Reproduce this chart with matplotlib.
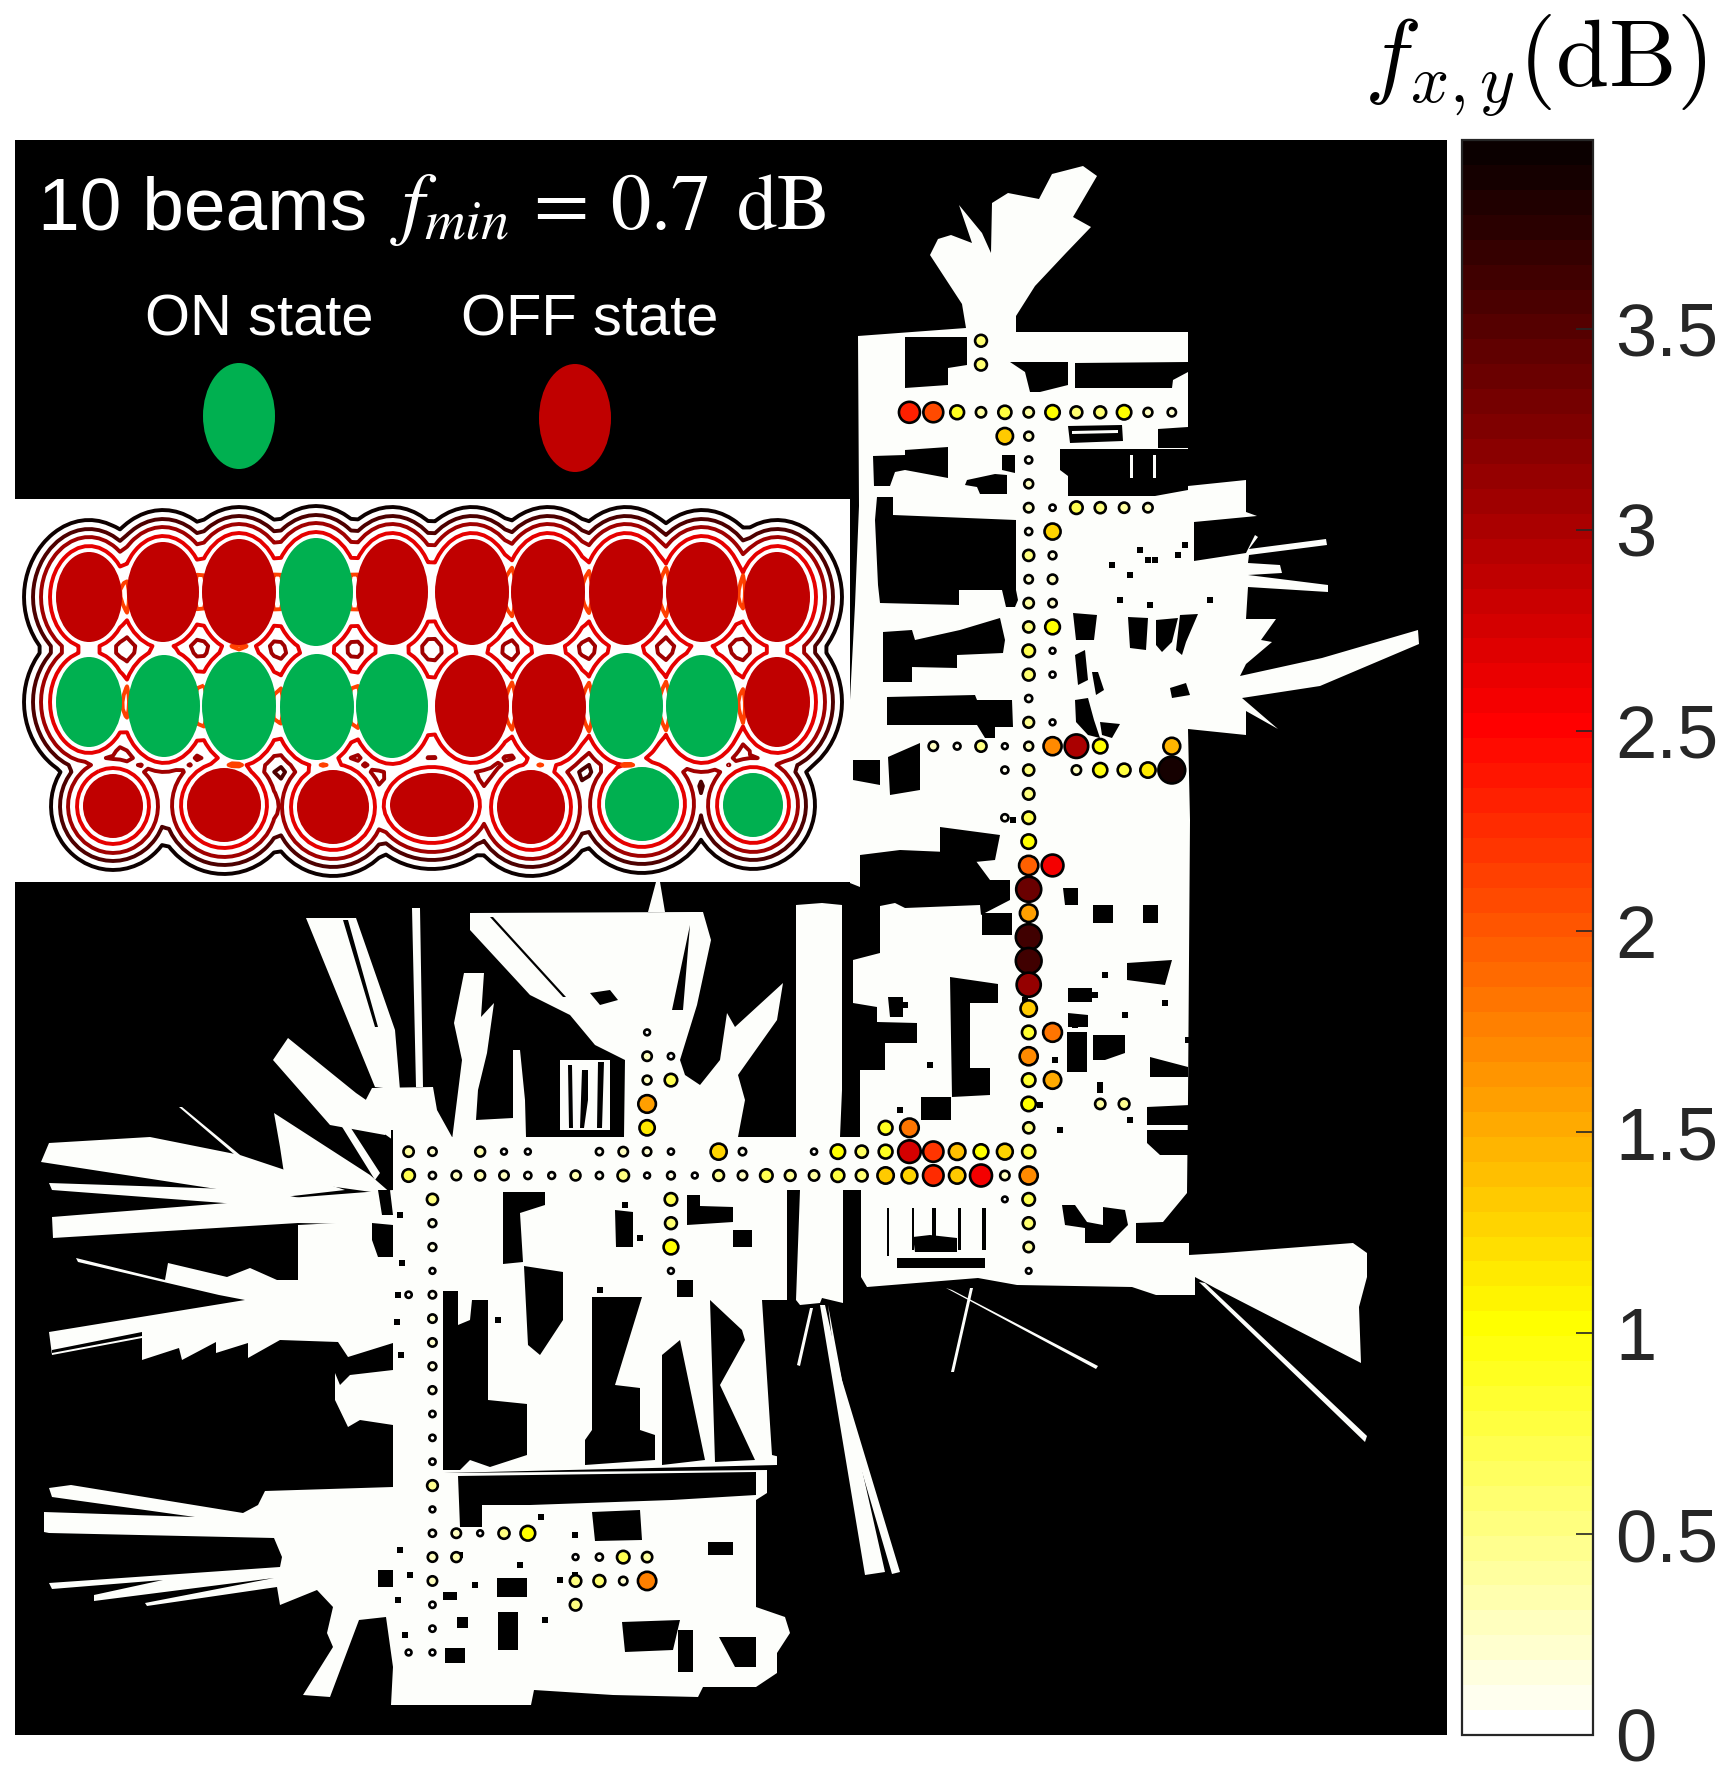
import numpy as np
import matplotlib
matplotlib.use("Agg")
import matplotlib.pyplot as plt
from matplotlib.patches import Ellipse, Rectangle

plt.rcParams["font.family"] = ["Liberation Sans", "DejaVu Sans"]
plt.rcParams["mathtext.fontset"] = "cm"

# measurement points, on a regular grid (col, row) with the values in dB
grid_rows = [-3, -2, 0, 1, 2, 3, 4, 5, 6, 7, 8, 9, 10, 11, 12, 13, 14, 15, 16, 17, 18, 19, 20, 21, 22, 23, 24, 25,
             26, 27, 28, 29, 30, 31, 32, 33, 34, 35, 36, 37, 38, 39, 40, 41, 42, 43, 44, 45, 46, 47, 48, 49, 50, 51, 52]
grid_cols = [
    [-2], [-2],
    [-5, -4, -3, -2, -1, 0, 1, 2, 3, 4, 5, 6],
    [-1, 0], [0], [0],
    [0, 1, 2, 3, 4, 5],
    [0, 1], [0, 1], [0, 1], [0, 1], [0, 1], [0, 1], [0, 1], [0], [0, 1],
    [-4, -3, -2, -1, 0, 1, 2, 3, 6],
    [-1, 0, 2, 3, 4, 5, 6],
    [0], [-1, 0], [0], [0, 1], [0], [0], [0], [0], [0], [0],
    [-16, 0, 1],
    [-16, -15, 0],
    [-16, -15, 0, 1],
    [-16, 0, 3, 4],
    [-16, -6, -5, 0],
    [-26, -25, -23, -22, -21, -18, -17, -16, -15, -13, -12, -9, -8, -7, -6, -5, -4, -3, -2, -1, 0],
    [-26, -25, -24, -23, -22, -21, -20, -19, -18, -17, -16, -15, -14, -13, -12, -11, -10, -9, -8, -7, -6, -5, -4, -3,
     -2, -1, 0],
    [-25, -15, -1, 0],
    [-25, -15, 0],
    [-25, -15, 0],
    [-25, -15, 0],
    [-26, -25],
    [-25], [-25], [-25], [-25], [-25], [-25], [-25], [-25], [-25],
    [-25, -24, -23, -22, -21],
    [-25, -24, -19, -18, -17, -16],
    [-25, -19, -18, -17, -16],
    [-25, -19],
    [-25],
    [-26, -25],
]
grid_vals = [
    [0.6], [0.6],
    [2.35, 2.1, 0.9, 0.4, 0.8, 0.4, 1.0, 0.6, 0.6, 1.0, 0.25, 0.2],
    [1.35, 0.25], [0.1], [0.25],
    [0.3, 0.05, 0.7, 0.5, 0.4, 0.3],
    [0.1, 1.3], [0.5, 0.15], [0.2, 0.3], [0.4, 0.2], [0.5, 1.05], [0.7, 0.03], [0.6, 0.04], [0.1], [0.45, 0.03],
    [0.3, 0.08, 0.5, 0.03, 0.25, 1.7, 3.0, 1.0, 1.45],
    [0.1, 0.5, 0.3, 0.95, 0.75, 1.15, 3.9],
    [0.55], [0.1, 0.7], [1.0], [1.95, 2.55], [3.4], [1.6], [3.6], [3.6], [3.15], [1.35],
    [0.03, 0.85, 1.85],
    [0.3, 0.05, 1.7],
    [0.25, 0.7, 0.85, 1.55],
    [1.6, 1.0, 0.4, 0.45],
    [1.15, 0.9, 1.8, 0.5],
    [0.4, 0.2, 0.35, 0.03, 0.03, 0.1, 0.3, 0.2, 0.04, 1.3, 0.12, 0.04, 1.0, 0.65, 0.9, 2.75, 2.2, 1.4, 1.05, 1.25, 0.8],
    [0.7, 0.1, 0.3, 0.35, 0.3, 0.1, 0.08, 0.35, 0.1, 0.55, 0.03, 0.15, 0.03, 0.45, 0.3, 0.7, 0.45, 0.4, 0.75, 0.6,
     1.35, 1.25, 2.25, 1.35, 2.6, 0.3, 1.7],
    [0.5, 0.7, 0.02, 0.7],
    [0.15, 0.6, 0.6],
    [0.15, 1.05, 0.4],
    [0.03, 0.03, 0.02],
    [0.05, 0.12],
    [0.2], [0.2], [0.15], [0.15], [0.05], [0.05], [0.05], [0.45], [0.03],
    [0.1, 0.3, 0.03, 0.5, 1.05],
    [0.3, 0.35, 0.03, 0.1, 0.7, 0.4],
    [0.3, 0.55, 0.6, 0.2, 1.75],
    [0.05, 0.55],
    [0.05],
    [0.03, 0.03],
]

# beam footprints of the inset: centre x, centre y, half width, half height, ON/OFF
beam_x = [89, 163, 239, 316, 392, 472, 548, 626, 702, 777,
          89, 164, 239, 317, 392, 472, 549, 626, 702, 777,
          113, 224, 333, 432, 531, 642, 753]
beam_y = [597, 592, 592, 592, 592, 592, 592, 592, 592, 597,
          702, 706, 706, 707, 706, 706, 707, 706, 706, 702,
          806, 805, 807, 805, 807, 804, 805]
beam_a = [33, 36, 37, 37, 36, 37, 37, 37, 36, 33,
          33, 36, 37, 37, 36, 37, 37, 37, 36, 33,
          30, 37, 36, 42, 34, 37, 30]
beam_b = [45, 50, 53, 54, 53, 53, 53, 53, 50, 45,
          45, 51, 54, 53, 52, 51, 53, 53, 51, 45,
          32, 37, 37, 32, 37, 37, 32]
beam_on = [0, 0, 0, 1, 0, 0, 0, 0, 0, 0,
           1, 1, 1, 1, 1, 0, 0, 1, 1, 0,
           0, 0, 0, 0, 0, 1, 1]
contour_levels = [6, 15, 23, 32]
contour_colors = ["#e60000", "#a00000", "#4d0000", "#0d0000"]

cbar_ticks = [0, 0.5, 1, 1.5, 2, 2.5, 3, 3.5]
cbar_labels = ["0", "0.5", "1", "1.5", "2", "2.5", "3", "3.5"]

# floor plan outlines, in the pixels of the source map
north_wing = [(966, 328), (962, 304), (930, 255), (938, 239), (951, 235), (972, 243), (959, 205), (982, 233),
              (991, 253), (992, 203), (1008, 193), (1039, 199), (1052, 174), (1083, 166), (1097, 176), (1073, 217),
              (1091, 227), (1066, 253), (1035, 286), (1016, 316), (1016, 332), (1188, 332), (1188, 486), (1246, 480),
              (1246, 512), (1257, 516), (1194, 522), (1194, 561), (1246, 553), (1255, 535), (1258, 537), (1249, 549),
              (1326, 539), (1327, 545), (1249, 555), (1248, 563), (1280, 565), (1282, 573), (1248, 575), (1328, 585),
              (1328, 592), (1248, 587), (1246, 619), (1276, 619), (1261, 640), (1272, 642), (1246, 664), (1240, 676),
              (1322, 658), (1418, 630), (1419, 644), (1320, 686), (1242, 698), (1278, 729), (1246, 711), (1246, 735),
              (1188, 729), (1190, 820), (1188, 1100), (1187, 1193), (1163, 1222), (1136, 1223), (1136, 1243),
              (1189, 1243), (1189, 1255), (1223, 1253), (1353, 1243), (1367, 1253), (1367, 1277), (1359, 1307),
              (1361, 1363), (1215, 1288), (1195, 1277), (1195, 1295), (1156, 1295), (1132, 1287), (1017, 1285),
              (978, 1278), (867, 1287), (861, 1277), (861, 1187), (843, 1187), (843, 1303), (822, 1298), (820, 1303),
              (800, 1305), (796, 1300), (796, 1187), (860, 1137), (860, 1070), (877, 1070), (877, 1007), (853, 1003),
              (853, 960), (880, 953), (880, 895), (850, 883), (850, 700), (855, 605), (859, 506), (858, 336)]
tower = [(796, 905), (822, 903), (842, 905), (842, 1090), (840, 1137), (843, 1190), (796, 1190)]
corridor = [(396, 1137), (1000, 1137), (1000, 1190), (396, 1190)]
mid_block = [(393, 1190), (790, 1190), (790, 1300), (777, 1300), (777, 1465), (444, 1473), (393, 1473)]
south_block = [(393, 1487), (265, 1491), (258, 1505), (243, 1513), (71, 1485), (49, 1488), (52, 1497), (195, 1517),
               (44, 1512), (44, 1532), (49, 1533), (274, 1538), (282, 1557), (280, 1567), (49, 1583), (52, 1589),
               (163, 1580), (94, 1595), (94, 1601), (274, 1578), (145, 1603), (147, 1606), (277, 1587), (280, 1605),
               (317, 1590), (333, 1607), (327, 1633), (333, 1647), (303, 1695), (330, 1697), (359, 1620), (386, 1617),
               (393, 1667), (391, 1705), (531, 1705), (534, 1690), (613, 1695), (698, 1697), (703, 1687), (756, 1687),
               (777, 1673), (777, 1653), (790, 1633), (785, 1617), (756, 1607), (756, 1500), (767, 1493), (767, 1470),
               (444, 1473), (393, 1473)]
strip = [(393, 1137), (444, 1137), (444, 1480), (393, 1480)]
west_bump = [(335, 1373), (335, 1400), (348, 1427), (360, 1420), (393, 1425), (393, 1370), (350, 1375), (340, 1385)]
west_wide = [(393, 1220), (298, 1225), (298, 1280), (277, 1280), (250, 1268), (227, 1277), (168, 1263), (165, 1280),
             (76, 1258), (78, 1262), (219, 1295), (245, 1300), (49, 1332), (52, 1355), (142, 1338), (142, 1360),
             (179, 1348), (182, 1360), (216, 1342), (216, 1353), (248, 1343), (248, 1358), (280, 1340), (338, 1342),
             (348, 1357), (393, 1343)]
west_ray_1 = [(290, 1198), (52, 1217), (53, 1238), (298, 1223), (393, 1225), (393, 1190)]
west_ray_2 = [(41, 1162), (49, 1143), (150, 1137), (240, 1155), (345, 1190), (275, 1198)]
west_ray_3 = [(49, 1183), (52, 1190), (290, 1208), (300, 1198), (260, 1190)]
west_ray_4 = [(179, 1107), (182, 1107), (240, 1155), (235, 1155)]
west_ray_5 = [(274, 1113), (370, 1175), (393, 1195), (285, 1180), (280, 1147)]
west_ray_6 = [(273, 1060), (288, 1038), (356, 1093), (395, 1120), (385, 1135), (330, 1125)]
west_ray_7 = [(318, 1088), (325, 1088), (380, 1173), (375, 1180)]
north_ray_1 = [(306, 918), (356, 918), (395, 1030), (400, 1090), (375, 1087)]
north_ray_2 = [(412, 908), (420, 908), (423, 1087), (416, 1087)]
north_foot = [(372, 1088), (433, 1087), (437, 1110), (452, 1137), (400, 1145), (358, 1115)]
north_stem = [(452, 1140), (462, 1060), (454, 1023), (464, 973), (484, 973), (481, 1017), (494, 1003), (487, 1053),
              (478, 1090), (476, 1120), (513, 1118), (513, 1050), (520, 1050), (525, 1100), (526, 1137)]
funnel = [(470, 913), (693, 912), (703, 912), (711, 940), (697, 1005), (680, 1060), (685, 1075), (700, 1085),
          (720, 1060), (727, 1013), (735, 1027), (783, 983), (777, 1020), (738, 1075), (745, 1100), (738, 1137),
          (624, 1137), (625, 1060), (595, 1045), (570, 1015), (530, 995), (470, 930)]
funnel_tip = [(648, 912), (656, 882), (660, 882), (665, 912)]
funnel_room = [(560, 1060), (610, 1060), (610, 1130), (560, 1130)]
south_ray_1 = [(810, 1308), (813, 1308), (800, 1366), (797, 1365)]
south_ray_2 = [(820, 1305), (825, 1305), (885, 1572), (865, 1575)]
south_ray_3 = [(828, 1305), (842, 1380), (900, 1572), (892, 1574), (838, 1390)]
south_ray_4 = [(946, 1288), (952, 1290), (1098, 1366), (1096, 1369)]
south_ray_5 = [(970, 1288), (973, 1288), (954, 1372), (951, 1372)]
south_ray_6 = [(1199, 1282), (1205, 1283), (1367, 1436), (1365, 1442)]

white_shapes = [north_wing, tower, corridor, mid_block, south_block, strip, west_bump, west_wide, west_ray_1,
                west_ray_2, west_ray_3, west_ray_4, west_ray_5, west_ray_6, west_ray_7, north_ray_1, north_ray_2,
                north_foot, north_stem, funnel, funnel_tip, funnel_room, south_ray_1, south_ray_2, south_ray_3,
                south_ray_4, south_ray_5, south_ray_6]

# dark rooms cut out of the floor plan
black_shapes = [
    [(905, 337), (967, 337), (967, 365), (948, 368), (948, 385), (905, 388)],
    [(1010, 362), (1068, 362), (1068, 385), (1040, 392), (1030, 392), (1025, 372)],
    [(1075, 363), (1188, 362), (1188, 372), (1173, 380), (1172, 388), (1075, 388)],
    [(1068, 426), (1122, 425), (1123, 441), (1070, 443)],
    [(1158, 429), (1188, 427), (1188, 448), (1158, 448)],
    [(1060, 449), (1188, 449), (1188, 490), (1155, 496), (1068, 496), (1068, 476), (1060, 470)],
    [(873, 456), (905, 455), (905, 450), (948, 447), (948, 478), (905, 470), (895, 472), (890, 486), (874, 486)],
    [(967, 480), (995, 474), (1007, 475), (1007, 494), (980, 494), (977, 487), (965, 485)],
    [(1002, 455), (1015, 455), (1015, 473), (1002, 470)],
    [(877, 497), (893, 497), (893, 515), (1016, 520), (1016, 590), (1018, 600), (1015, 607), (1006, 607), (1002, 590),
     (959, 590), (959, 605), (880, 603), (878, 585), (875, 520)],
    [(883, 632), (912, 630), (915, 640), (960, 630), (1000, 618), (1005, 640), (1003, 653), (957, 655), (957, 668),
     (912, 667), (912, 682), (883, 682)],
    [(887, 697), (975, 695), (977, 700), (1012, 700), (1013, 727), (995, 727), (995, 738), (985, 738), (977, 725),
     (887, 725)],
    [(888, 757), (920, 743), (920, 790), (890, 795)],
    [(853, 760), (880, 760), (880, 785), (853, 780)],
    [(1073, 613), (1097, 615), (1094, 640), (1076, 640)],
    [(1075, 655), (1085, 650), (1088, 680), (1078, 685)],
    [(1092, 672), (1098, 672), (1104, 690), (1096, 695)],
    [(1075, 700), (1088, 698), (1094, 720), (1100, 738), (1088, 735), (1076, 722)],
    [(1100, 722), (1120, 724), (1112, 738), (1102, 735)],
    [(1128, 617), (1148, 618), (1146, 650), (1130, 648)],
    [(1156, 620), (1178, 618), (1172, 642), (1162, 652), (1156, 645)],
    [(1180, 615), (1198, 614), (1186, 642), (1182, 655), (1176, 650)],
    [(1170, 688), (1186, 683), (1190, 695), (1172, 698)],
    [(940, 827), (1000, 835), (995, 860), (965, 863), (940, 855)],
    [(860, 855), (900, 850), (970, 853), (990, 880), (1010, 880), (1010, 900), (981, 915), (980, 905), (905, 908),
     (895, 903), (870, 908), (860, 890)],
    [(982, 913), (1012, 913), (1012, 935), (982, 935)],
    [(950, 977), (998, 984), (998, 1003), (970, 1003), (970, 1068), (990, 1068), (990, 1095), (952, 1097)],
    [(888, 997), (903, 997), (903, 1017), (890, 1017)],
    [(877, 1022), (917, 1023), (917, 1043), (885, 1043), (885, 1070), (877, 1070)],
    [(921, 1097), (951, 1097), (951, 1120), (921, 1120)],
    [(1063, 888), (1078, 888), (1078, 905), (1065, 905)],
    [(1093, 905), (1113, 905), (1113, 923), (1093, 923)],
    [(1143, 905), (1158, 905), (1158, 923), (1143, 923)],
    [(1127, 963), (1172, 960), (1165, 985), (1127, 980)],
    [(1068, 988), (1092, 988), (1092, 1002), (1068, 1002)],
    [(1068, 1013), (1088, 1015), (1088, 1027), (1068, 1027)],
    [(1067, 1032), (1087, 1032), (1087, 1072), (1067, 1072)],
    [(1093, 1035), (1125, 1035), (1125, 1053), (1105, 1060), (1093, 1060)],
    [(1150, 1057), (1188, 1067), (1188, 1077), (1150, 1077)],
    [(1147, 1107), (1190, 1105), (1190, 1125), (1147, 1125)],
    [(1147, 1130), (1190, 1130), (1190, 1155), (1160, 1155), (1147, 1143)],
    [(1062, 1205), (1075, 1205), (1087, 1222), (1103, 1225), (1103, 1207), (1125, 1210), (1128, 1225), (1110, 1243),
     (1085, 1243), (1085, 1228), (1065, 1225)],
    [(913, 1237), (930, 1235), (957, 1238), (957, 1252), (935, 1252), (915, 1252)],
    [(897, 1258), (985, 1258), (985, 1268), (897, 1268)],
    [(887, 1208), (888.5, 1208), (888.5, 1256), (887, 1256)],
    [(912, 1208), (914, 1208), (914, 1250), (912, 1250)],
    [(932, 1208), (936, 1208), (936, 1250), (932, 1250)],
    [(958, 1208), (961, 1208), (961, 1250), (958, 1250)],
    [(982, 1208), (986, 1208), (986, 1250), (982, 1250)],
    [(503, 1192), (545, 1192), (545, 1205), (520, 1213), (523, 1262), (503, 1264)],
    [(615, 1210), (633, 1212), (633, 1247), (616, 1247)],
    [(687, 1195), (700, 1195), (700, 1206), (733, 1207), (733, 1222), (687, 1225)],
    [(733, 1230), (752, 1230), (752, 1247), (733, 1247)],
    [(677, 1280), (693, 1280), (693, 1297), (677, 1297)],
    [(787, 1190), (800, 1190), (796, 1300), (787, 1300)],
    [(443, 1291), (458, 1291), (458, 1325), (470, 1320), (472, 1300), (488, 1300), (488, 1400), (527, 1404),
     (527, 1455), (490, 1467), (470, 1460), (460, 1470), (443, 1470)],
    [(524, 1266), (563, 1272), (563, 1320), (540, 1355), (528, 1345)],
    [(592, 1297), (642, 1297), (615, 1385), (640, 1388), (640, 1430), (655, 1435), (655, 1460), (585, 1465),
     (585, 1440), (592, 1430), (592, 1380)],
    [(662, 1355), (680, 1340), (705, 1460), (662, 1465)],
    [(710, 1300), (742, 1330), (745, 1340), (720, 1385), (755, 1460), (715, 1462)],
    [(762, 1300), (788, 1300), (792, 1460), (772, 1455)],
    [(458, 1476), (756, 1472), (756, 1495), (672, 1500), (530, 1505), (482, 1505), (482, 1527), (460, 1527)],
    [(592, 1512), (640, 1510), (642, 1540), (595, 1541)],
    [(497, 1578), (527, 1578), (527, 1597), (497, 1597)],
    [(622, 1622), (680, 1620), (673, 1650), (625, 1652)],
    [(678, 1630), (693, 1630), (693, 1672), (678, 1672)],
    [(445, 1648), (465, 1648), (465, 1663), (445, 1663)],
    [(498, 1612), (518, 1612), (518, 1650), (498, 1650)],
    [(378, 1570), (393, 1570), (393, 1587), (378, 1587)],
    [(443, 1592), (457, 1592), (457, 1600), (443, 1600)],
    [(457, 1617), (468, 1617), (468, 1628), (457, 1628)],
    [(719, 1637), (756, 1637), (756, 1667), (735, 1667)],
    [(708, 1542), (733, 1542), (733, 1555), (708, 1555)],
    [(372, 1223), (393, 1225), (393, 1257), (378, 1257), (372, 1240)],
    [(378, 1190), (390, 1190), (393, 1215), (382, 1215)],
    [(391, 1130), (393, 1130), (393, 1190), (391, 1190)],
    [(52, 1350), (142, 1332), (142, 1336), (52, 1353)],
    [(343, 920), (348, 920), (378, 1027), (375, 1027)],
    [(490, 917), (493, 917), (566, 997), (563, 997)],
    [(590, 993), (610, 990), (618, 1000), (600, 1005)],
    [(672, 1010), (690, 925), (683, 1010)],
    # stripes in the room below the funnel
    [(568, 1065), (572, 1065), (573, 1128), (569, 1128)],
    [(582, 1070), (588, 1070), (588, 1100), (584, 1128), (580, 1128)],
    [(598, 1062), (604, 1062), (602, 1128), (597, 1128)],
]
# thin bright gaps that remain inside the dark rooms
light_shapes = [
    [(1130, 455), (1133, 455), (1133, 478), (1130, 478)],
    [(1153, 455), (1156, 455), (1156, 478), (1153, 478)],
    [(1072, 431), (1118, 430), (1118, 433), (1072, 434)],
]
speck_x = [400, 402, 398, 397, 401, 1013, 1055, 1100, 1125, 1165, 1188, 1178, 1148, 1130, 1112, 1120, 1150, 1210,
           1185, 1220, 905, 900, 915, 930, 1025, 1100, 1040, 1060, 1095, 1105, 1140, 1155, 625, 640, 600, 498, 541,
           575, 520, 545, 460, 475, 400, 410, 398, 405, 560, 575, 1075, 1130]
speck_y = [1215, 1263, 1295, 1322, 1355, 820, 1060, 1090, 1015, 1003, 1040, 555, 560, 575, 565, 600, 605, 600,
           545, 530, 1005, 1110, 1130, 1065, 1000, 1085, 1105, 1130, 995, 975, 550, 560, 1205, 1238, 1290, 1320, 1517,
           1535, 1565, 1620, 1555, 1585, 1550, 1575, 1600, 1635, 1580, 1575, 1025, 1120]

fig = plt.figure(figsize=(17.34, 17.82), dpi=100)
W, H = 1734.0, 1782.0
ax = fig.add_axes([15 / W, (H - 1735) / H, (1447 - 15) / W, (1735 - 140) / H])
ax.set_facecolor("black")
ax.set_xlim(15, 1447)
ax.set_ylim(1735, 140)
ax.set_xticks([])
ax.set_yticks([])
for sp in ax.spines.values():
    sp.set_visible(False)

for shape in white_shapes:
    xs, ys = zip(*shape)
    ax.fill(xs, ys, color="#fdfefb", lw=0, zorder=1)
for shape in black_shapes:
    xs, ys = zip(*shape)
    ax.fill(xs, ys, color="black", lw=0, zorder=2)
for shape in light_shapes:
    xs, ys = zip(*shape)
    ax.fill(xs, ys, color="#fdfefb", lw=0, zorder=2.5)
ax.scatter(speck_x, speck_y, s=16, c="black", marker="s", lw=0, zorder=2.5)

# points
step = 23.85
pt_x, pt_y, pt_v = [], [], []
for row, cols, vals in zip(grid_rows, grid_cols, grid_vals, strict=True):
    for col, val in zip(cols, vals, strict=True):
        pt_x.append(1028.7 + col * step)
        pt_y.append(412.3 + row * step)
        pt_v.append(val)
pt_v = np.array(pt_v)
radius_px = 3.6 + 4.9 * pt_v ** 0.6
sizes = (2 * (radius_px - 1.3) * 0.72) ** 2

cmap = plt.get_cmap("hot_r", 64)
sc = ax.scatter(pt_x, pt_y, s=sizes, c=pt_v, cmap=cmap, vmin=0, vmax=3.97,
                edgecolors="black", linewidths=1.9, zorder=6)

# inset with the beam layout, contours on a coarse grid like the source
ax.add_patch(Rectangle((15, 499), 835, 383, color="white", lw=0, zorder=3))
gx, gy = np.meshgrid(np.arange(15, 853, 7.0), np.arange(499, 887, 7.0))
fields = []
for bx, by, ba, bb in zip(beam_x, beam_y, beam_a, beam_b):
    dx, dy = gx - bx, gy - by
    rr = np.hypot(dx, dy) + 1e-6
    k = np.hypot(dx / ba, dy / bb) + 1e-6
    fields.append(rr * (1 - 1 / k))
fields = np.sort(np.array(fields), axis=0)
clip = Rectangle((15, 499), 835, 383, transform=ax.transData)
cs = ax.contour(gx, gy, fields[0], levels=contour_levels, colors=contour_colors, linewidths=2.8, zorder=4)
cs.set_clip_path(clip)
# the orange lines only show where two neighbouring beams nearly touch
cs2 = ax.contour(gx, gy, fields[1], levels=[7], colors=["#ff4000"], linewidths=2.8, zorder=4)
cs2.set_clip_path(clip)
for bx, by, ba, bb, on in zip(beam_x, beam_y, beam_a, beam_b, beam_on):
    ax.add_patch(Ellipse((bx, by), 2 * ba, 2 * bb, color="#00B050" if on else "#C00000", lw=0, zorder=5))

# legend part
ax.add_patch(Ellipse((239, 416), 72, 106, color="#00B050", lw=0, zorder=5))
ax.add_patch(Ellipse((575, 418), 72, 108, color="#C00000", lw=0, zorder=5))
ax.text(38, 229, "10 beams", color="white", fontsize=54, va="baseline", ha="left", zorder=7)
ax.text(390, 229, r"$f_{min}\,=\,0.7\;\,\mathrm{dB}$", color="white", fontsize=58, va="baseline", ha="left",
        math_fontfamily="stix", zorder=7)
ax.text(145, 336, "ON state", color="white", fontsize=41.7, va="baseline", ha="left", zorder=7)
ax.text(461, 336, "OFF state", color="white", fontsize=41.7, va="baseline", ha="left", zorder=7)

# colour bar
cax = fig.add_axes([1462 / W, (H - 1735) / H, (1593 - 1462) / W, (1735 - 140) / H])
cb = fig.colorbar(sc, cax=cax)
cb.set_ticks(cbar_ticks)
cb.set_ticklabels(cbar_labels)
cax.tick_params(axis="y", direction="in", length=12, width=1.2, color="#262626", labelcolor="#262626",
                labelsize=53.5, pad=16)
cb.outline.set_edgecolor("#262626")
cb.outline.set_linewidth(1.6)

fig.text(1364 / W, 1 - 87 / H, r"$f_{x,y}\mathrm{(dB)}$", fontsize=69, color="black", va="baseline", ha="left")

fig.savefig("out.png", dpi=100)
